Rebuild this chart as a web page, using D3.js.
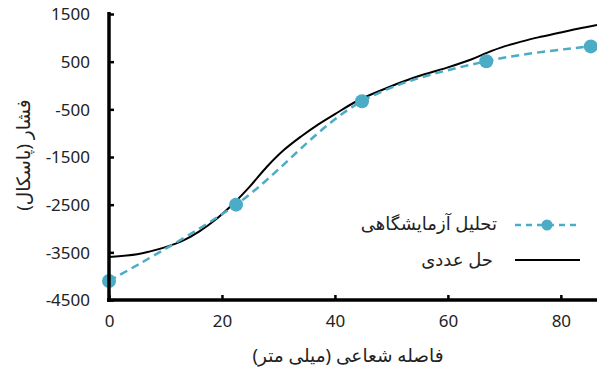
<!DOCTYPE html>
<html><head><meta charset="utf-8">
<script src="https://cdn.jsdelivr.net/npm/d3@7"></script>
<style>
html,body{margin:0;padding:0;background:#fff;}
svg text{font-family:"Noto Sans","DejaVu Sans",sans-serif;fill:#222;}
</style></head>
<body>
<svg id="c" width="597" height="369"></svg>
<script>
const expX = [0, 22.5, 44.8, 66.8, 85.3];
const expY = [-4100, -2500, -330, 510, 820];
const numX = [0, 5, 7.3, 10, 13, 16, 19, 22, 25, 28, 31, 34, 37, 40, 44, 48, 52, 56, 60, 64, 67, 70, 73, 76, 80, 83, 86.4];
const numY = [-3600, -3540, -3480, -3390, -3260, -3060, -2800, -2480, -2110, -1700, -1350, -1070, -820, -600, -320, -110, 80, 240, 380, 540, 690, 820, 920, 1010, 1110, 1190, 1270];
const xTicks = [0, 20, 40, 60, 80];
const yTicks = [1500, 500, -500, -1500, -2500, -3500, -4500];
const seriesNames = ["تحلیل آزمایشگاهی", "حل عددی"];
const xTitle = "فاصله شعاعی (میلی متر)";
const yTitle = "فشار (پاسکال)";

const svg = d3.select("#c");
const x = d3.scaleLinear().domain([0, 86.4]).range([109, 597]);
const y = d3.scaleLinear().domain([-4500, 1500]).range([300, 14]);
const blue = "#4bacc6";

// numerical line
svg.append("path")
  .datum(numX.map((d,i)=>[d,numY[i]]))
  .attr("fill","none").attr("stroke","#000").attr("stroke-width",2)
  .attr("d", d3.line().x(d=>x(d[0])).y(d=>y(d[1])).curve(d3.curveCatmullRom.alpha(0.5)));

// experimental dashed
const expData = expX.map((d,i)=>[d,expY[i]]);
svg.append("path")
  .datum(expData)
  .attr("fill","none").attr("stroke",blue).attr("stroke-width",2.5)
  .attr("stroke-dasharray","8,5")
  .attr("d", d3.line().x(d=>x(d[0])).y(d=>y(d[1])).curve(d3.curveCatmullRom.alpha(0.5)));
svg.selectAll("circle.exp").data(expData).enter().append("circle")
  .attr("class","exp").attr("cx",d=>x(d[0])).attr("cy",d=>y(d[1])).attr("r",7).attr("fill",blue);

// axes
const xAxis = svg.append("g").attr("transform","translate(0,300)")
  .call(d3.axisBottom(x).tickValues(xTicks).tickSize(-5).tickPadding(15).tickFormat(d => String(d)));
const yAxis = svg.append("g").attr("transform","translate(109,0)")
  .call(d3.axisLeft(y).tickValues(yTicks).tickSize(-5).tickPadding(19).tickFormat(d => String(d)));
[xAxis,yAxis].forEach(g=>{
  g.select(".domain").attr("stroke","#000").attr("stroke-width",3.5);
  g.selectAll(".tick line").attr("stroke","#000").attr("stroke-width",2.5);
  g.selectAll(".tick text").attr("font-size",17).attr("fill","#222");
});
yAxis.selectAll(".tick text").attr("dy","0.35em");
xAxis.select(".domain").attr("d","M107,0H597");
yAxis.select(".domain").attr("d","M0,12V302");

// axis titles
svg.append("text").attr("x",348).attr("y",362).attr("text-anchor","middle")
  .attr("font-size",18.5).text(xTitle);
svg.append("text").attr("transform","translate(30,155) rotate(-90)").attr("text-anchor","middle")
  .attr("font-size",18.5).text(yTitle);

// legend
const lg = svg.append("g");
lg.append("line").attr("x1",515).attr("x2",579).attr("y1",225).attr("y2",225)
  .attr("stroke",blue).attr("stroke-width",2.5).attr("stroke-dasharray","6,5");
lg.append("circle").attr("cx",547).attr("cy",225).attr("r",5.5).attr("fill",blue);
lg.append("text").attr("x",497).attr("y",224).attr("dy","0.35em").attr("text-anchor","end")
  .attr("font-size",18).text(seriesNames[0]);
lg.append("line").attr("x1",515).attr("x2",580).attr("y1",260).attr("y2",260)
  .attr("stroke","#000").attr("stroke-width",2);
lg.append("text").attr("x",493).attr("y",260).attr("dy","0.35em").attr("text-anchor","end")
  .attr("font-size",18).text(seriesNames[1]);
</script>
</body></html>
